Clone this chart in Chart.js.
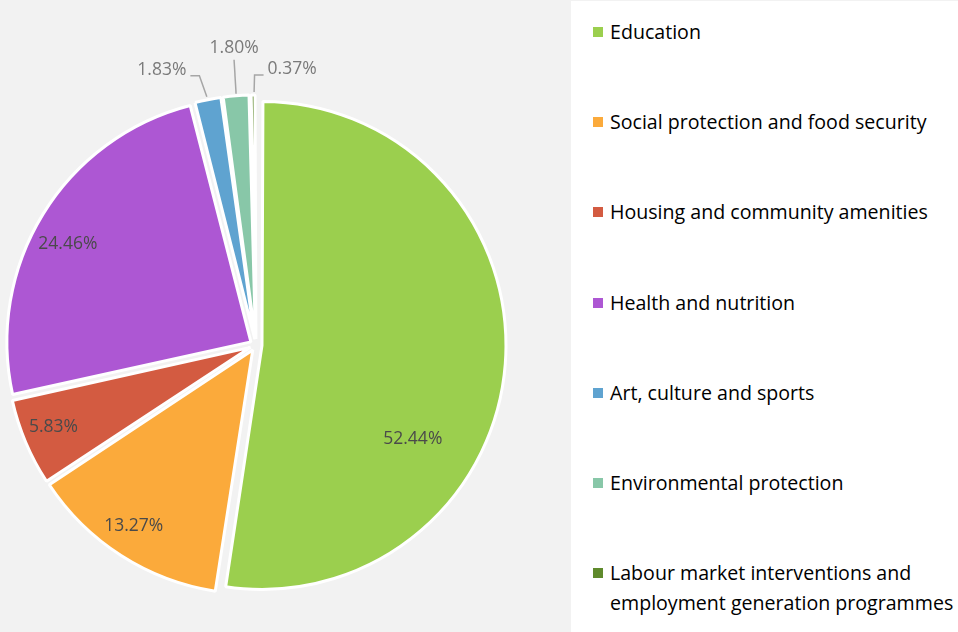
<!DOCTYPE html>
<html>
<head>
<meta charset="utf-8">
<script src="https://cdn.jsdelivr.net/npm/chart.js@4.4.1/dist/chart.umd.min.js"></script>
<style>
  body { margin: 0; background: #f2f2f2; font-family: "Open Sans", "Noto Sans", sans-serif; }
  #wrap { position: relative; width: 958px; height: 632px; overflow: hidden; }
  #pie { position: absolute; left: -20px; top: 0; }
  #legend { position: absolute; left: 571px; top: 1px; right: 0; bottom: 0; background: #fff; }
  #legend ul { list-style: none; margin: 0; padding: 16px 0 0 0; }
  #legend li { position: relative; padding-left: 39px; font-size: 19.6px; line-height: 30px; color: #000; margin-bottom: 60.2px; white-space: nowrap; }
  #legend li span { position: absolute; left: 22px; top: 10px; width: 10px; height: 10px; }
</style>
</head>
<body>
<div id="wrap">
  <canvas id="pie" width="590" height="632"></canvas>
  <div id="legend"><ul></ul></div>
</div>
<script>
var categories = [
  'Education',
  'Social protection and food security',
  'Housing and community amenities',
  'Health and nutrition',
  'Art, culture and sports',
  'Environmental protection',
  ['Labour market interventions and', 'employment generation programmes']
];
var shares = [52.44, 13.27, 5.83, 24.46, 1.83, 1.80, 0.37];
var colours = ['#9bcf4e', '#fbaa3b', '#d35b41', '#ad57d3', '#5fa3d0', '#88c7a8', '#5f8a2c'];

// legend on the right, one row per category
var ul = document.querySelector('#legend ul');
categories.forEach(function(name, i) {
    var li = document.createElement('li');
    var sw = document.createElement('span');
    sw.style.background = colours[i];
    li.appendChild(sw);
    [].concat(name).forEach(function(line, k) {
        if (k) li.appendChild(document.createElement('br'));
        li.appendChild(document.createTextNode(line));
    });
    ul.appendChild(li);
});

var OFFSET = 24;

// keep all slices the same radius (arc.draw grows narrow slices by the offset)
var evenRadius = {
    id: 'evenRadius',
    beforeDatasetsDraw: function(chart) {
        var meta = chart.getDatasetMeta(0);
        var base = meta.controller.outerRadius;
        meta.data.forEach(function(arc) {
            var c = arc.endAngle - arc.startAngle;
            var fix = 1 - Math.sin(Math.min(Math.PI, c));
            arc.outerRadius = base - (OFFSET / 4) * fix;
        });
    }
};

// percentage labels, inside the big slices and with leader lines for the small ones
var sliceLabels = {
    id: 'sliceLabels',
    afterDatasetsDraw: function(chart, args, opts) {
        var ctx = chart.ctx;
        var meta = chart.getDatasetMeta(0);
        var R = meta.controller.outerRadius;
        ctx.save();
        ctx.font = opts.font;
        ctx.textAlign = 'center';
        ctx.textBaseline = 'middle';
        meta.data.forEach(function(arc, i) {
            var mid = (arc.startAngle + arc.endAngle) / 2;
            var cx = arc.x + Math.cos(mid) * OFFSET / 4;
            var cy = arc.y + Math.sin(mid) * OFFSET / 4;
            var text = shares[i].toFixed(2) + '%';
            var call = opts.callouts[i];
            if (call) {
                var ex = cx + Math.cos(mid) * R, ey = cy + Math.sin(mid) * R;
                var tx = ex + call[0], ty = ey + call[1];
                var w = ctx.measureText(text).width;
                ctx.strokeStyle = opts.lineColor;
                ctx.lineWidth = 1.5;
                ctx.beginPath();
                if (Math.abs(call[0]) < 8) {
                    ctx.moveTo(tx, ty + 12);
                    ctx.lineTo(ex, ey - 2);
                } else {
                    var dir = call[0] < 0 ? 1 : -1;
                    var sx = tx + dir * (w / 2 + 4);
                    ctx.moveTo(sx, ty + 6);
                    ctx.lineTo(sx + dir * 9, ty + 6);
                    ctx.lineTo(ex - dir * 1, ey - 3);
                }
                ctx.stroke();
                ctx.fillStyle = opts.outerColor;
                ctx.fillText(text, tx, ty);
            } else {
                var a = opts.anchors[i] || [0.5, opts.inside];
                var ang = arc.startAngle + (arc.endAngle - arc.startAngle) * a[0];
                var r = R * a[1];
                ctx.fillStyle = opts.innerColor;
                ctx.fillText(text, cx + Math.cos(ang) * r, cy + Math.sin(ang) * r);
            }
        });
        ctx.restore();
    }
};

var ctx = document.getElementById('pie').getContext('2d');
window.myPie = new Chart(ctx, {
    type: 'pie',
    data: {
        labels: categories.map(function(c) { return [].concat(c).join(' '); }),
        datasets: [{
            data: shares,
            backgroundColor: colours,
            borderColor: '#ffffff',
            borderWidth: 3,
            offset: OFFSET
        }]
    },
    options: {
        responsive: false,
        animation: false,
        layout: { padding: { left: 18.5, right: 56.5, top: 87.5, bottom: 29.5 } },
        plugins: {
            legend: { display: false },
            tooltip: { enabled: false },
            sliceLabels: {
                font: '17.5px "Open Sans", "Noto Sans", sans-serif',
                innerColor: '#4a4a4a',
                outerColor: '#7a7a7a',
                lineColor: '#a6a6a6',
                inside: 0.88,
                // [fraction along the arc, fraction of radius]
                anchors: [[0.645, 0.727], [0.53, 0.87], [0.55, 0.87], [0.46, 0.85]],
                callouts: [null, null, null, null, [-46, -30], [-2, -48], [39, -26]]
            }
        }
    },
    plugins: [evenRadius, sliceLabels]
});
</script>
</body>
</html>
